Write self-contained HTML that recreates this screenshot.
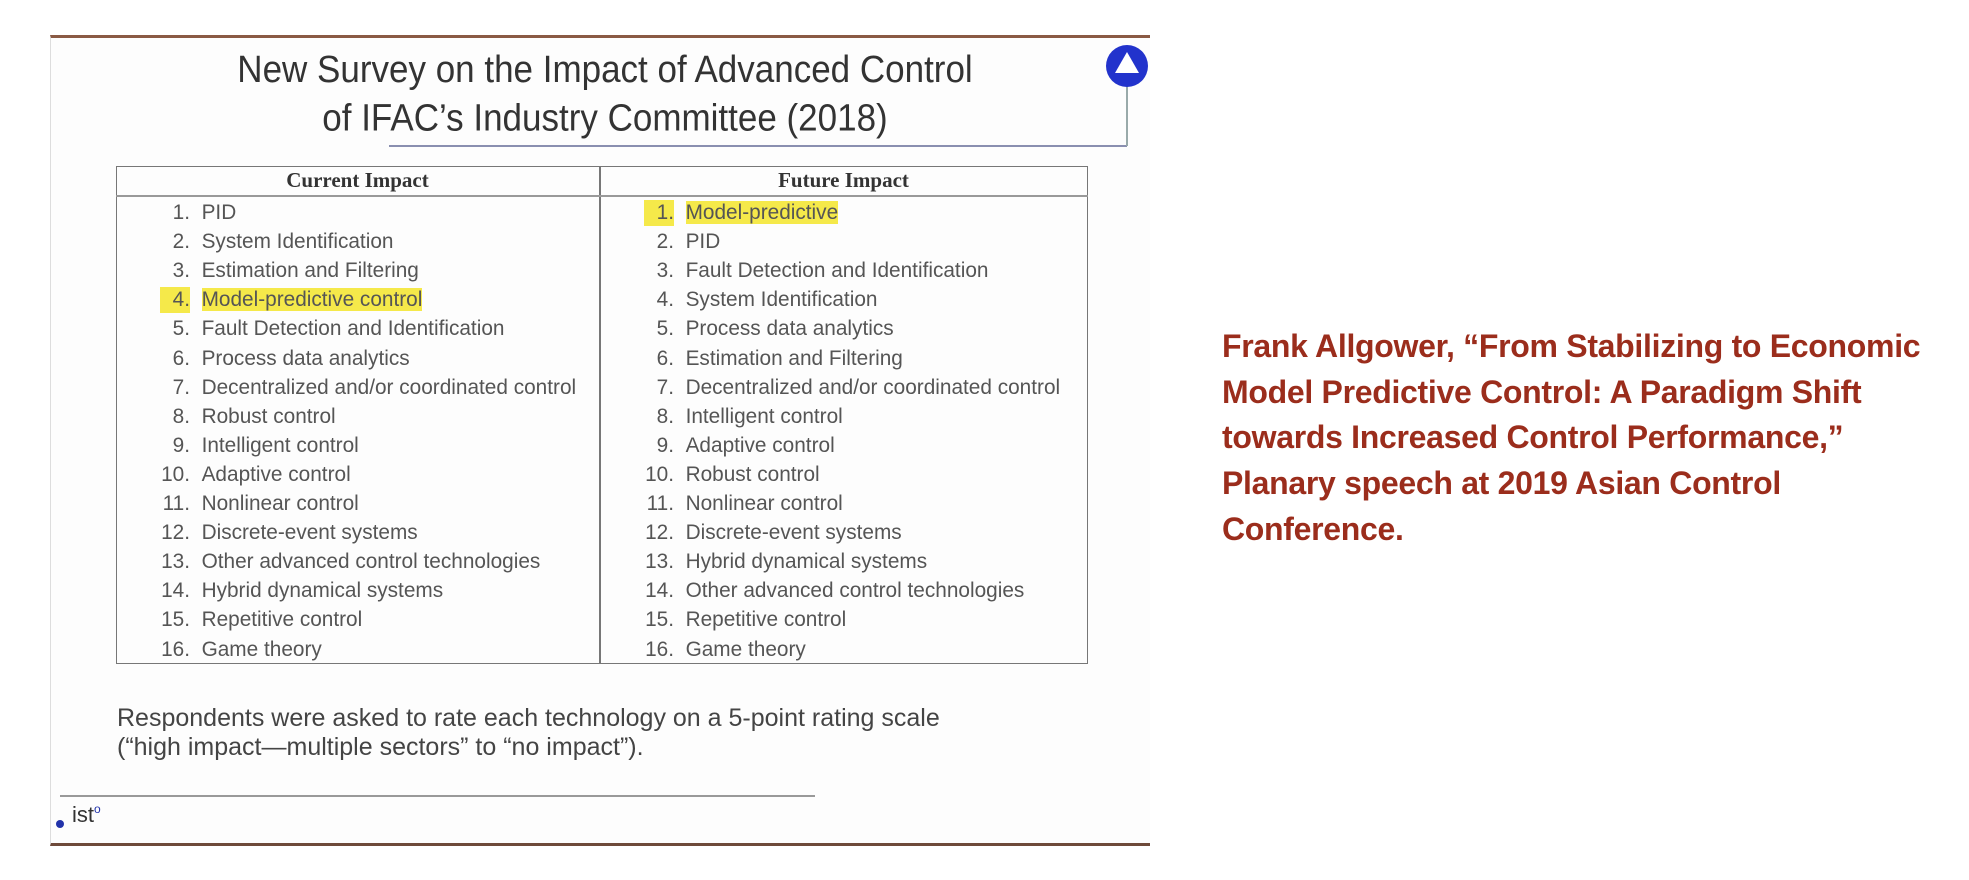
<!DOCTYPE html>
<html><head><meta charset="utf-8"><style>
body{margin:0;width:1969px;height:880px;background:#fff;position:relative;overflow:hidden;font-family:"Liberation Sans",sans-serif}
.abs{position:absolute}
.slide{left:50px;top:35px;width:1099px;height:805px;border-top:3px solid #8a5a44;border-bottom:3px solid #6e4a3a;border-left:1px solid #ddd;background:#fdfdfd}
.title{left:100px;width:1010px;text-align:center;font-size:35px;color:#333;line-height:45px;top:49px;transform:scaleY(1.08)}
.tbl{left:116px;top:166px;width:972px;height:498px;border:1.5px solid #777;box-sizing:border-box}
.vd{left:599px;top:166px;width:1.5px;height:498px;background:#777}
.hd{top:195px;left:116px;width:972px;height:1.5px;background:#999}
.h{font-size:21px;font-weight:bold;color:#333;top:168px;text-align:center;font-family:"Liberation Serif",serif}
.row{font-size:20.8px;color:#555;height:26px;line-height:26px}
.n{width:30px;text-align:right;display:inline-block}
.hl{background:#f5e94a}
.ref{left:1222px;top:324px;font-size:32px;font-weight:bold;color:#9b2d1c;line-height:45.7px;letter-spacing:-0.3px}
</style></head><body>
<div class="abs slide"></div>
<div class="abs title">New Survey on the Impact of Advanced Control<br>of IFAC’s Industry Committee (2018)</div>
<div class="abs" style="left:389px;top:145px;width:738px;height:2px;background:#8a8fb0"></div>
<div class="abs" style="left:1126px;top:86px;width:2px;height:60px;background:#9aa"></div>
<svg class="abs" style="left:1102px;top:41px" width="50" height="50"><circle cx="25" cy="25" r="21" fill="#2233cc"/><polygon points="25,11 37,32 13,32" fill="#fff"/></svg>
<div class="abs tbl"></div><div class="abs vd"></div><div class="abs hd"></div>
<div class="abs h" style="left:116px;width:483px">Current Impact</div>
<div class="abs h" style="left:599px;width:489px">Future Impact</div>
<div id="L"></div>
<div class="abs" style="left:117px;top:704px;font-size:25px;color:#444;line-height:29px">Respondents were asked to rate each technology on a 5-point rating scale<br>(“high impact—multiple sectors” to “no impact”).</div>
<div class="abs" style="left:60px;top:795px;width:755px;height:1.5px;background:#999"></div>
<div class="abs" style="left:56px;top:820px;width:8px;height:8px;border-radius:50%;background:#2233aa"></div>
<div class="abs" style="left:72px;top:802px;font-size:22px;color:#333">ist<span style="font-size:12px;vertical-align:top;color:#2233aa">o</span></div>
<div class="abs ref">Frank Allgower, “From Stabilizing to Economic<br>Model Predictive Control: A Paradigm Shift<br>towards Increased Control Performance,”<br>Planary speech at 2019 Asian Control<br>Conference.</div>
<script>
var a=["PID","System Identification","Estimation and Filtering","Model-predictive control","Fault Detection and Identification","Process data analytics","Decentralized and/or coordinated control","Robust control","Intelligent control","Adaptive control","Nonlinear control","Discrete-event systems","Other advanced control technologies","Hybrid dynamical systems","Repetitive control","Game theory"];
var b=["Model-predictive","PID","Fault Detection and Identification","System Identification","Process data analytics","Estimation and Filtering","Decentralized and/or coordinated control","Intelligent control","Adaptive control","Robust control","Nonlinear control","Discrete-event systems","Hybrid dynamical systems","Other advanced control technologies","Repetitive control","Game theory"];
var h="";
for(var i=0;i<16;i++){var y=200+i*29.1;
var la=i==3,lb=i==0;
h+='<div class="abs row" style="left:160px;top:'+y+'px"><span class="n'+(la?' hl':'')+'">'+(i+1)+'.</span>&nbsp;&nbsp;<span'+(la?' class="hl"':'')+'>'+a[i]+'</span></div>';
h+='<div class="abs row" style="left:644px;top:'+y+'px"><span class="n'+(lb?' hl':'')+'">'+(i+1)+'.</span>&nbsp;&nbsp;<span'+(lb?' class="hl"':'')+'>'+b[i]+'</span></div>';}
document.getElementById("L").innerHTML=h;
</script>
</body></html>
